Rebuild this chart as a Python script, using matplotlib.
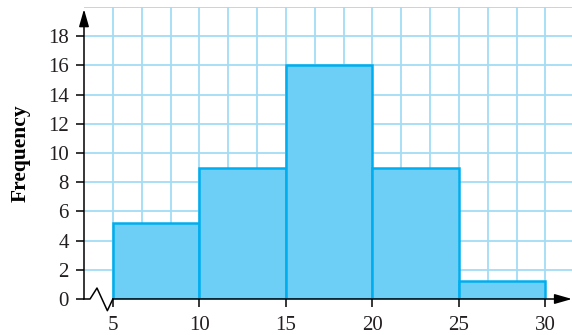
import matplotlib.pyplot as plt
import numpy as np

# histogram data
bin_edges = [5, 10, 15, 20, 25, 30]
frequencies = [5.2, 9, 16, 9, 1.2]
y_ticks = [0, 2, 4, 6, 8, 10, 12, 14, 16, 18]
x_ticks = [5, 10, 15, 20, 25, 30]

grid_color = "#a3dcf4"
fill_color = "#6dcff6"
edge_color = "#00aeef"

plt.rcParams["font.family"] = ["Liberation Serif", "DejaVu Serif"]

fig = plt.figure(figsize=(5.72, 3.35), dpi=100)
ax = fig.add_axes([84 / 572, 36 / 335, 488 / 572, 292 / 335])

step = 5 / 3
x0 = bin_edges[0] - step
x1 = bin_edges[0] + (572 - 113) / 17.3
ax.set_xlim(x0, x1)
ax.set_ylim(0, 20)

# grid
ax.vlines(np.arange(x0 + step, x1 + 0.5, step), 0, 20, color=grid_color, lw=1.3, zorder=1, clip_on=False)
ax.hlines(np.arange(2, 21, 2), x0, x1, color=grid_color, lw=1.3, zorder=1)

# bars
widths = np.diff(bin_edges)
ax.bar(bin_edges[:-1], frequencies, width=widths, align="edge",
       color=fill_color, edgecolor=edge_color, linewidth=1.8, zorder=3)

for s in ax.spines.values():
    s.set_visible(False)

# axes with arrows
arrow = "-|>,head_length=1.05,head_width=0.3"
ax.annotate("", xy=(x0, 19.85), xytext=(x0, 0),
            arrowprops=dict(arrowstyle=arrow, color="black", lw=1.1, shrinkA=0, shrinkB=0),
            zorder=5, annotation_clip=False)
ax.annotate("", xy=(x1, 0), xytext=(bin_edges[0], 0),
            arrowprops=dict(arrowstyle=arrow, color="black", lw=1.1, shrinkA=0, shrinkB=0),
            zorder=5, annotation_clip=False)

# axis break zigzag
zx = x0 + np.array([0, 0.35, 0.75, 1.35, step])
zy = np.array([0, 0, 0.75, -0.8, 0])
ax.plot(zx, zy, color="black", lw=1.1, clip_on=False, zorder=5)

ax.set_xticks(x_ticks)
ax.set_yticks(y_ticks)
ax.tick_params(axis="both", direction="out", length=6, width=1.1, color="black",
               labelsize=15, labelcolor="#231f20")
ax.tick_params(axis="y", pad=5)
ax.tick_params(axis="x", pad=6)

ax.set_ylabel("Frequency", fontsize=15.5, fontweight="bold", labelpad=12)

fig.savefig("out.png", dpi=100)
